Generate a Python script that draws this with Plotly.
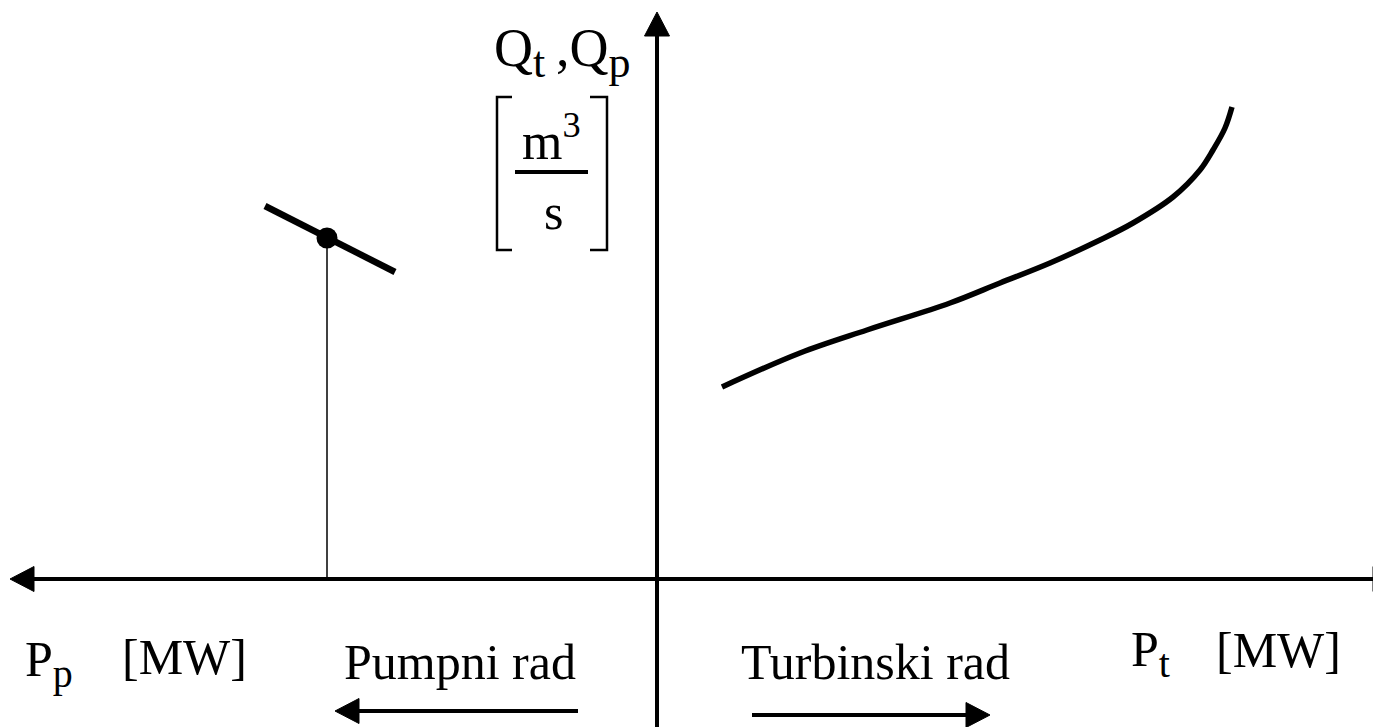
import plotly.graph_objects as go

# schematic coordinates: origin where the two axes cross
turbine_x = [65, 143, 210, 293, 343, 393, 443, 476, 516, 543, 556, 568, 575]
turbine_y = [192, 226, 249, 276, 296, 316, 339, 356, 382, 409, 429, 451, 472]

pump_x = [-392, -262]
pump_y = [373, 307]

point_x = [-330]
point_y = [341]

# axis extents and direction arrows (tail, tip)
h_axis_x = [-647, 740]
v_axis_y = [-160, 567]
pump_arrow_x = [-79, -322]
turb_arrow_x = [95, 333]
dir_arrow_y = [-132, -136]

# unit bracket [m^3/s]
bracket_x = [-145, -160, -50, -67]
bracket_y = [482, 329]
frac_x = [-142, -69]
frac_y = 407

FONT = "Liberation Serif"
BLACK = "#000000"
HEAD_LEN = 24
HEAD_HALF = 12.5

fig = go.Figure()


def add_line(xs, ys, width, shape="linear"):
    fig.add_trace(
        go.Scatter(
            x=xs, y=ys, mode="lines",
            line={"color": BLACK, "width": width, "shape": shape},
            hoverinfo="skip", showlegend=False,
        )
    )


def add_head(tip_x, tip_y, dx, dy):
    # filled triangle, tip at (tip_x, tip_y), pointing along (dx, dy)
    bx, by = tip_x - dx * HEAD_LEN, tip_y - dy * HEAD_LEN
    px, py = -dy * HEAD_HALF, dx * HEAD_HALF
    fig.add_shape(
        type="path", xref="x", yref="y",
        path=f"M {tip_x},{tip_y} L {bx + px},{by + py} L {bx - px},{by - py} Z",
        fillcolor=BLACK, line={"color": BLACK, "width": 1},
    )


add_line(turbine_x, turbine_y, 5.5, "spline")
add_line(pump_x, pump_y, 6.5)
add_line([point_x[0], point_x[0]], [point_y[0], 0], 1.5)
fig.add_trace(
    go.Scatter(
        x=point_x, y=point_y, mode="markers",
        marker={"color": BLACK, "size": 21},
        hoverinfo="skip", showlegend=False,
    )
)

# axes
add_line([h_axis_x[0] + 10, h_axis_x[1] - 10], [0, 0], 4)
add_head(h_axis_x[0], 0, -1, 0)
add_head(h_axis_x[1], 0, 1, 0)
add_line([0, 0], [v_axis_y[0], v_axis_y[1] - 10], 4)
add_head(0, v_axis_y[1], 0, 1)

# direction arrows
add_line([pump_arrow_x[0], pump_arrow_x[1] + 10], [dir_arrow_y[0]] * 2, 4)
add_head(pump_arrow_x[1], dir_arrow_y[0], -1, 0)
add_line([turb_arrow_x[0], turb_arrow_x[1] - 10], [dir_arrow_y[1]] * 2, 4)
add_head(turb_arrow_x[1], dir_arrow_y[1], 1, 0)

# bracket and fraction bar
fig.add_shape(
    type="path", xref="x", yref="y",
    path=f"M {bracket_x[0]},{bracket_y[0]} L {bracket_x[1]},{bracket_y[0]} L {bracket_x[1]},{bracket_y[1]} L {bracket_x[0]},{bracket_y[1]}",
    line={"color": BLACK, "width": 2.5},
)
fig.add_shape(
    type="path", xref="x", yref="y",
    path=f"M {bracket_x[3]},{bracket_y[0]} L {bracket_x[2]},{bracket_y[0]} L {bracket_x[2]},{bracket_y[1]} L {bracket_x[3]},{bracket_y[1]}",
    line={"color": BLACK, "width": 2.5},
)
fig.add_shape(
    type="line", xref="x", yref="y",
    x0=frac_x[0], x1=frac_x[1], y0=frac_y, y1=frac_y,
    line={"color": BLACK, "width": 4},
)


def sub(s, size=40):
    return f"<sub><span style='font-size:{size}px'>{s}</span></sub>"


labels = [
    ("Q" + sub("t", 44) + "\u2009,Q" + sub("p", 44), -165, 527, "left", 54),
    ("m<sup>3</sup>", -137, 442, "left", 52),
    ("s", -104, 367, "center", 50),
    ("P" + sub("p"), -634, -84, "left", 50),
    ("[MW]", -537, -78, "left", 50),
    ("Pumpni rad", -315, -83, "left", 50),
    ("Turbinski rad", 82, -83, "left", 50),
    ("P" + sub("t"), 472, -74, "left", 50),
    ("[MW]", 557, -71, "left", 50),
]
for text, x, y, anchor, size in labels:
    fig.add_annotation(
        x=x, y=y, xref="x", yref="y", text=text, showarrow=False,
        xanchor=anchor, yanchor="middle",
        font={"family": FONT, "size": size, "color": BLACK},
    )

# page body keeps an 8px margin, so the figure is 8px smaller and shifted
fig.update_layout(
    width=1373, height=719,
    margin={"l": 0, "r": 0, "t": 0, "b": 0},
    paper_bgcolor="white", plot_bgcolor="white",
    xaxis={"range": [-649, 724], "visible": False, "fixedrange": True},
    yaxis={"range": [-148, 571], "visible": False, "fixedrange": True},
    showlegend=False,
)

fig.write_html("out.html")
